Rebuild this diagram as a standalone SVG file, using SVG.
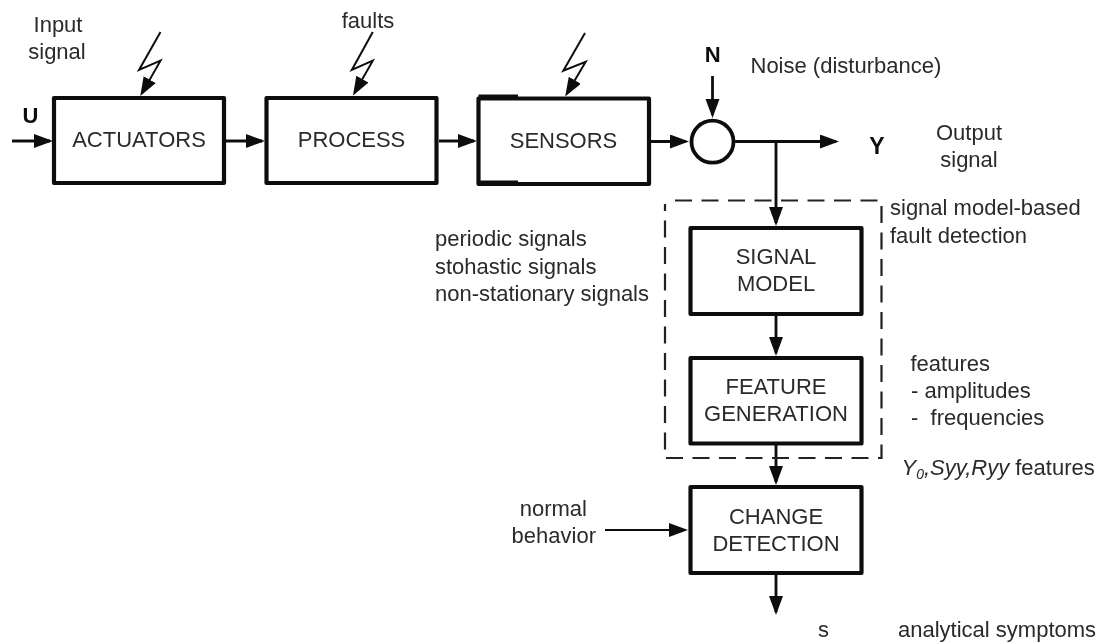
<svg xmlns="http://www.w3.org/2000/svg" width="1102" height="644" viewBox="0 0 1102 644">
<style>
text{font-family:"Liberation Sans",Arial,sans-serif;font-size:22px;fill:#2a2a2a;white-space:pre}
.m{text-anchor:middle}
.e{text-anchor:end}
.b{font-weight:bold;fill:#111}
.i{font-style:italic}
.box{fill:#fff;stroke:#111;stroke-width:4.2;stroke-linejoin:round}
.l{fill:none;stroke:#111;stroke-width:2.8}
.t{fill:none;stroke:#111;stroke-width:2}
.d{fill:none;stroke:#222;stroke-width:2.2;stroke-dasharray:17 9.5}
</style>
<defs>
<marker id="a" markerUnits="userSpaceOnUse" markerWidth="22" markerHeight="16" refX="16" refY="7" orient="auto"><path d="M0 0L19 7L0 14Z" fill="#111"/></marker>
<filter id="soft" x="0" y="0" width="100%" height="100%"><feGaussianBlur stdDeviation="0.45"/></filter>
</defs>
<rect width="1102" height="644" fill="#fff"/>
<g filter="url(#soft)">
<g id="connectors">
<path class="l" marker-end="url(#a)" d="M12 141H50"/>
<path class="l" marker-end="url(#a)" d="M226 141H262"/>
<path class="l" marker-end="url(#a)" d="M439 141H474"/>
<path class="l" marker-end="url(#a)" d="M651 141.500H686"/>
<path class="l" marker-end="url(#a)" d="M712.500 76V115"/>
<path class="l" marker-end="url(#a)" d="M735 141.500H836"/>
<path class="l" marker-end="url(#a)" d="M776 141.500V223"/>
<path class="l" marker-end="url(#a)" d="M776 316V353"/>
<path class="l" marker-end="url(#a)" d="M776 445V482"/>
<path class="l" marker-end="url(#a)" d="M776 575V612"/>
<path class="t" marker-end="url(#a)" d="M605 530H685"/>
<path class="t" marker-end="url(#a)" d="M160.500 32L139 70L160.500 60.700L141.800 93.500"/>
<path class="t" marker-end="url(#a)" d="M372.800 32L351.800 70L372.800 60.700L354.500 93"/>
<path class="t" marker-end="url(#a)" d="M585 33L563.300 70.700L585.700 61.700L566.700 94"/>
<path class="d" d="M675 200.500H881.500V458H665V204"/>
</g>
<g id="actuators"><rect class="box" x="54" y="98" width="170" height="85"/><text class="m" x="139" y="147">ACTUATORS</text></g>
<g id="process"><rect class="box" x="266.500" y="98" width="170" height="85"/><text class="m" x="351.500" y="147">PROCESS</text></g>
<g id="sensors"><rect class="box" x="478.500" y="98.500" width="170.500" height="85.500"/><path d="M478.500 96.500H518M478.500 182.500H518" fill="none" stroke="#111" stroke-width="4"/><text class="m" x="563.500" y="148">SENSORS</text></g>
<g id="sum"><circle cx="712.500" cy="141.700" r="21" fill="#fff" stroke="#111" stroke-width="3.800"/></g>
<g id="signal-model"><rect class="box" x="690.500" y="228" width="171" height="86"/><text class="m" x="776" y="264">SIGNAL</text><text class="m" x="776" y="291">MODEL</text></g>
<g id="feature-generation"><rect class="box" x="690.500" y="358" width="171" height="85.500"/><text class="m" x="776" y="394">FEATURE</text><text class="m" x="776" y="421">GENERATION</text></g>
<g id="change-detection"><rect class="box" x="690.500" y="487" width="171" height="86"/><text class="m" x="776" y="523.500">CHANGE</text><text class="m" x="776" y="550.500">DETECTION</text></g>
<g id="labels">
<text class="m" x="58" y="32">Input</text><text class="m" x="57" y="58.500">signal</text>
<text class="m" x="368" y="28">faults</text>
<text class="b m" x="30.500" y="123">U</text>
<text class="b m" x="712.700" y="62">N</text>
<text x="750.500" y="72.500">Noise (disturbance)</text>
<text class="b m" x="877" y="154" style="font-size:23px">Y</text>
<text class="m" x="969" y="140">Output</text><text class="m" x="969" y="167">signal</text>
<text x="890" y="215">signal model-based</text><text x="890" y="243">fault detection</text>
<text x="435" y="246">periodic signals</text><text x="435" y="273.500">stohastic signals</text><text x="435" y="300.500">non-stationary signals</text>
<text x="910.500" y="370.500">features</text><text x="911" y="398">- amplitudes</text><text x="911" y="425">-  frequencies</text>
<text x="901.500" y="475"><tspan class="i">Y</tspan><tspan class="i" font-size="14" dy="4">0</tspan><tspan class="i" dy="-4">,Syy,Ryy</tspan> features</text>
<text class="e" x="587" y="516">normal</text><text class="e" x="596" y="543">behavior</text>
<text class="m" x="823.500" y="637">s</text>
<text x="898" y="637">analytical symptoms</text>
</g>
</g>
</svg>
